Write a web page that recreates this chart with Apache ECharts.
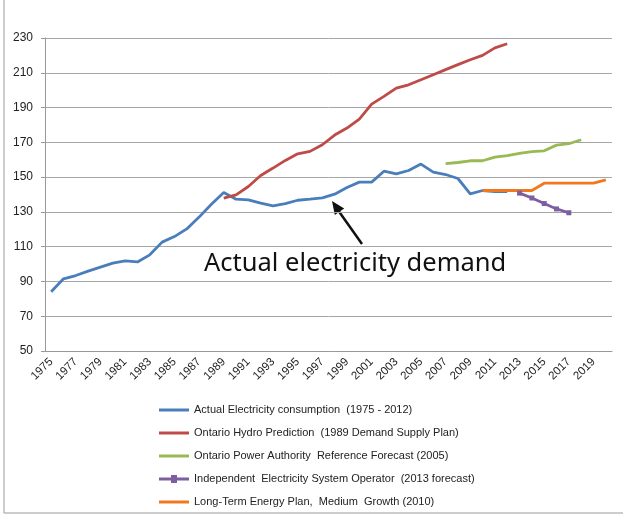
<!DOCTYPE html>
<html>
<head>
<meta charset="utf-8">
<script src="https://cdn.jsdelivr.net/npm/echarts@6/dist/echarts.min.js"></script>
<style>
  html, body { margin: 0; padding: 0; background: #fff; }
  #chart { width: 623px; height: 518px; }
</style>
</head>
<body>
<div id="chart"></div>
<script>
// categories 1975 - 2020
var years = [];
for (var y = 1975; y <= 2020; y++) years.push(String(y));

// series values, each starts at its first year
var actualStart = 1975;
var actual = [84.1, 91.5, 93.4, 95.9, 98.2, 100.5, 101.8, 101.2, 105.3, 112.6,
  115.8, 120.2, 127, 134.4, 141.1, 137.3, 136.9, 135, 133.5, 134.8,
  136.7, 137.3, 138.1, 140.2, 144, 147.1, 147.1, 153.4, 151.9, 153.8,
  157.5, 152.9, 151.5, 149.2, 140.4, 142.3, 141.7, 141.7];

var hydroStart = 1989;
var hydro = [137.9, 139.8, 144.6, 150.9, 155.2, 159.6, 163.4, 164.8, 168.6, 174.2,
  178.2, 183.4, 192, 196.4, 201.2, 203.1, 206, 208.9, 211.8, 214.7,
  217.5, 220, 224.3, 226.7];

var opaStart = 2007;
var opa = [157.7, 158.4, 159.4, 159.4, 161.5, 162.4, 163.6, 164.6, 165.1, 168.4, 169.2, 171.5];

var ieso2013Start = 2013;
var ieso2013 = [140.8, 138, 134.8, 131.7, 129.5];

var ltepStart = 2010;
var ltep = [142.3, 142.3, 142.3, 142.3, 142.3, 146.5, 146.5, 146.5, 146.5, 146.5, 148.4];

var seriesNames = [
  'Actual Electricity consumption  (1975 - 2012)',
  'Ontario Hydro Prediction  (1989 Demand Supply Plan)',
  'Ontario Power Authority  Reference Forecast (2005)',
  'Independent  Electricity System Operator  (2013 forecast)',
  'Long-Term Energy Plan,  Medium  Growth (2010)'
];

// legend icons: plain bar, and bar with a small square for the marked series
var barIcon = 'path://M0,0 H30 V3 H0 Z';
var markIcon = 'path://M0,2.5 H12 V0 H18 V2.5 H30 V5.5 H18 V8 H12 V5.5 H0 Z';

function pad(start, vals) {
  return years.map(function (yr) {
    var i = Number(yr) - start;
    return (i >= 0 && i < vals.length) ? vals[i] : null;
  });
}

function lineSeries(name, data, color, extra) {
  var s = {
    name: name,
    type: 'line',
    data: data,
    symbol: 'none',
    lineStyle: { color: color, width: 2.8 },
    itemStyle: { color: color },
    emphasis: { disabled: true },
    animation: false
  };
  for (var k in extra) s[k] = extra[k];
  return s;
}

var myChart = echarts.init(document.getElementById('chart'));
var option = {
  backgroundColor: '#fff',
  textStyle: { fontFamily: 'Liberation Sans' },
  grid: { left: 45, right: 11, top: 38, bottom: 167, containLabel: false },
  legend: {
    orient: 'vertical',
    left: 159,
    top: 403,
    height: 112,
    padding: 0,
    itemWidth: 30,
    itemHeight: 8,
    itemGap: 9,
    symbolKeepAspect: true,
    textStyle: { fontFamily: 'Liberation Sans', fontSize: 11, color: '#222', lineHeight: 14 },
    data: seriesNames.map(function (n, i) {
      return { name: n, icon: i === 3 ? markIcon : barIcon };
    })
  },
  xAxis: {
    type: 'category',
    data: years,
    boundaryGap: true,
    axisLine: { lineStyle: { color: '#999', width: 1 } },
    axisTick: { interval: 0, length: 5, lineStyle: { color: '#999' } },
    axisLabel: { interval: 1, rotate: 45, fontSize: 11.5, color: '#222', margin: 9 },
    splitLine: { show: false }
  },
  yAxis: {
    type: 'value',
    min: 50,
    max: 230,
    interval: 20,
    axisLine: { show: true, lineStyle: { color: '#999' } },
    axisTick: { show: true, length: 4, lineStyle: { color: '#999' } },
    axisLabel: { fontSize: 12, color: '#222', margin: 12 },
    splitLine: { lineStyle: { color: '#a6a6a6', width: 1 } }
  },
  series: [
    lineSeries(seriesNames[0], pad(actualStart, actual), '#4a7ebb'),
    lineSeries(seriesNames[1], pad(hydroStart, hydro), '#be4b48'),
    lineSeries(seriesNames[2], pad(opaStart, opa), '#98b954'),
    lineSeries(seriesNames[3], pad(ieso2013Start, ieso2013), '#7d5fa0',
      { symbol: 'rect', symbolSize: 5, showSymbol: true }),
    lineSeries(seriesNames[4], pad(ltepStart, ltep), '#f0781e')
  ],
  graphic: [
    {
      type: 'rect',
      shape: { x: 4, y: -10, width: 700, height: 523 },
      style: { fill: 'none', stroke: '#9a9a9a', lineWidth: 1 },
      silent: true
    },
    {
      type: 'text',
      left: 204,
      top: 251,
      style: { text: 'Actual electricity demand', font: '25.5px "Noto Sans"', fill: '#111' },
      silent: true
    },
    {
      type: 'line',
      shape: { x1: 362, y1: 244, x2: 339, y2: 211.5 },
      style: { stroke: '#111', lineWidth: 2.5 },
      silent: true
    },
    {
      type: 'polygon',
      shape: { points: [[332, 201], [344.2, 208.4], [334.8, 215]] },
      style: { fill: '#111' },
      silent: true
    }
  ]
};
myChart.setOption(option);
</script>
</body>
</html>
